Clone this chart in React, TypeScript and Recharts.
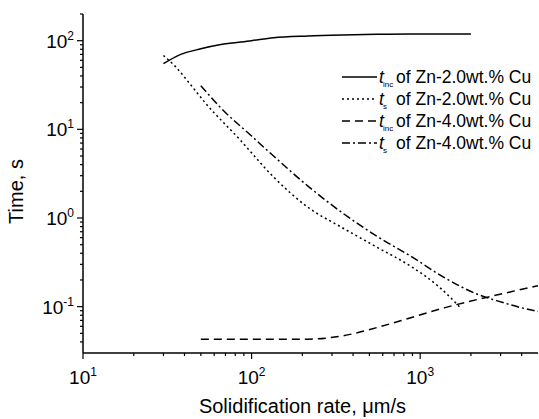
import { LineChart, Line, XAxis, YAxis } from 'recharts';

// t_inc of Zn-2.0wt.% Cu
const incZn2X = [30, 38, 50, 67, 100, 135, 216, 344, 552, 880, 2000];
const incZn2Y = [55, 70, 81, 91, 100, 108, 113, 116, 118, 119, 119];
// t_s of Zn-2.0wt.% Cu
const tsZn2X = [30, 35, 44, 53, 85, 135, 216, 344, 552, 880, 1280, 1620, 1750];
const tsZn2Y = [68, 52, 31, 20, 7.7, 2.9, 1.32, 0.78, 0.47, 0.285, 0.17, 0.111, 0.095];
// t_inc of Zn-4.0wt.% Cu
const incZn4X = [50, 100, 216, 344, 552, 880, 1406, 2250, 3500, 5000];
const incZn4Y = [0.043, 0.043, 0.043, 0.0467, 0.058, 0.075, 0.0975, 0.122, 0.148, 0.172];
// t_s of Zn-4.0wt.% Cu
const tsZn4X = [50, 67, 100, 135, 216, 344, 552, 880, 1406, 2250, 2840, 4000, 5000];
const tsZn4Y = [31, 16.8, 8.4, 5.0, 2.29, 1.15, 0.625, 0.37, 0.21, 0.135, 0.117, 0.097, 0.088];

const xMajor = [10, 100, 1000];
const xMinor = [20, 30, 40, 50, 60, 70, 80, 90, 200, 300, 400, 500, 600, 700, 800, 900, 2000, 3000, 4000];
const yMajor = [0.1, 1, 10, 100];
const yMinor = [0.04, 0.05, 0.06, 0.07, 0.08, 0.09, 0.2, 0.3, 0.4, 0.5, 0.6, 0.7, 0.8, 0.9,
  2, 3, 4, 5, 6, 7, 8, 9, 20, 30, 40, 50, 60, 70, 80, 90, 200];

const toPoints = (xs: number[], ys: number[]) => xs.map((x, i) => ({ x, y: ys[i] }));

const series = [
  { sub: 'inc', name: 'of Zn-2.0wt.% Cu', dash: undefined, data: toPoints(incZn2X, incZn2Y) },
  { sub: 's', name: 'of Zn-2.0wt.% Cu', dash: '2 3', data: toPoints(tsZn2X, tsZn2Y) },
  { sub: 'inc', name: 'of Zn-4.0wt.% Cu', dash: '8 5', data: toPoints(incZn4X, incZn4Y) },
  { sub: 's', name: 'of Zn-4.0wt.% Cu', dash: '8 3 2 3', data: toPoints(tsZn4X, tsZn4Y) },
];

const FONT = '"Liberation Sans", Arial, sans-serif';

const expOf = (v: number) => Math.round(Math.log10(v));

const XTick = (props: any) => {
  const { x, y, payload } = props;
  const major = xMajor.includes(payload.value);
  return (
    <g>
      <line x1={x} y1={y} x2={x} y2={y + (major ? 6 : 3)} stroke="#000" strokeWidth={1.2} />
      {major && (
        <text x={x} y={y + 31} textAnchor="middle" fontSize={19} fontFamily={FONT} fill="#000">
          10<tspan dy={-8} fontSize={12}>{expOf(payload.value)}</tspan>
        </text>
      )}
    </g>
  );
};

const YTick = (props: any) => {
  const { x, y, payload } = props;
  const major = yMajor.includes(payload.value);
  return (
    <g>
      <line x1={x} y1={y} x2={x - (major ? 6 : 3)} y2={y} stroke="#000" strokeWidth={1.2} />
      {major && (
        <text x={x - 9} y={y + 7} textAnchor="end" fontSize={19} fontFamily={FONT} fill="#000">
          10<tspan dy={-8} fontSize={12}>{expOf(payload.value)}</tspan>
        </text>
      )}
    </g>
  );
};

const XTitle = (props: any) => {
  const { viewBox } = props;
  return (
    <text x={viewBox.x + viewBox.width / 2 - 8} y={viewBox.y + 60} textAnchor="middle"
      fontSize={20} fontFamily={FONT} fill="#000">
      Solidification rate, μm/s
    </text>
  );
};

const YTitle = (props: any) => {
  const { viewBox } = props;
  const cx = viewBox.x + 23;
  const cy = viewBox.y + viewBox.height / 2 + 8;
  return (
    <text x={cx} y={cy} transform={`rotate(-90, ${cx}, ${cy})`} textAnchor="middle"
      fontSize={20} fontFamily={FONT} fill="#000">
      Time, s
    </text>
  );
};

const LegendBox = () => (
  <svg width={200} height={100} style={{ position: 'absolute', left: 340, top: 65 }}>
    {series.map((s, i) => {
      const cy = 12 + i * 22;
      return (
        <g key={i} fontFamily={FONT} fill="#000">
          <line x1={2} y1={cy} x2={37} y2={cy} stroke="#000" strokeWidth={1.5} strokeDasharray={s.dash} />
          <text x={39} y={cy + 6} fontSize={17.5} fontStyle="italic">t</text>
          <text x={43} y={cy + 10} fontSize={8}>{s.sub}</text>
          <text x={56} y={cy + 6} fontSize={17.5}>{s.name}</text>
        </g>
      );
    })}
  </svg>
);

export default function App() {
  return (
    <div style={{ position: 'absolute', left: 0, top: 0, width: 539, height: 419, background: '#fff' }}>
      <LineChart width={539} height={419} margin={{ top: 14, right: 1, bottom: 0, left: 0 }}>
        <XAxis dataKey="x" type="number" scale="log" domain={[10, 5000]} allowDataOverflow
          ticks={[...xMajor, ...xMinor]} interval={0} tick={<XTick />} tickLine={false}
          tickSize={0} tickMargin={0} height={66} stroke="#000" strokeWidth={1.5}
          label={<XTitle />} />
        <XAxis xAxisId="top" orientation="top" type="number" scale="log" domain={[10, 5000]}
          allowDataOverflow height={0} tick={false} tickLine={false} stroke="#000" strokeWidth={1.5} />
        <YAxis type="number" scale="log" domain={[0.03, 200]} allowDataOverflow
          ticks={[...yMajor, ...yMinor]} interval={0} tick={<YTick />} tickLine={false}
          tickSize={0} tickMargin={0} width={83} stroke="#000" strokeWidth={1.5}
          label={<YTitle />} />
        <YAxis yAxisId="right" orientation="right" type="number" scale="log" domain={[0.03, 200]}
          allowDataOverflow width={0} tick={false} tickLine={false} stroke="#000" strokeWidth={1.5} />
        {series.map((s, i) => (
          <Line key={i} data={s.data} dataKey="y" type="monotone" stroke="#000" strokeWidth={1.5}
            strokeDasharray={s.dash} dot={false} isAnimationActive={false} />
        ))}
      </LineChart>
      <LegendBox />
    </div>
  );
}
